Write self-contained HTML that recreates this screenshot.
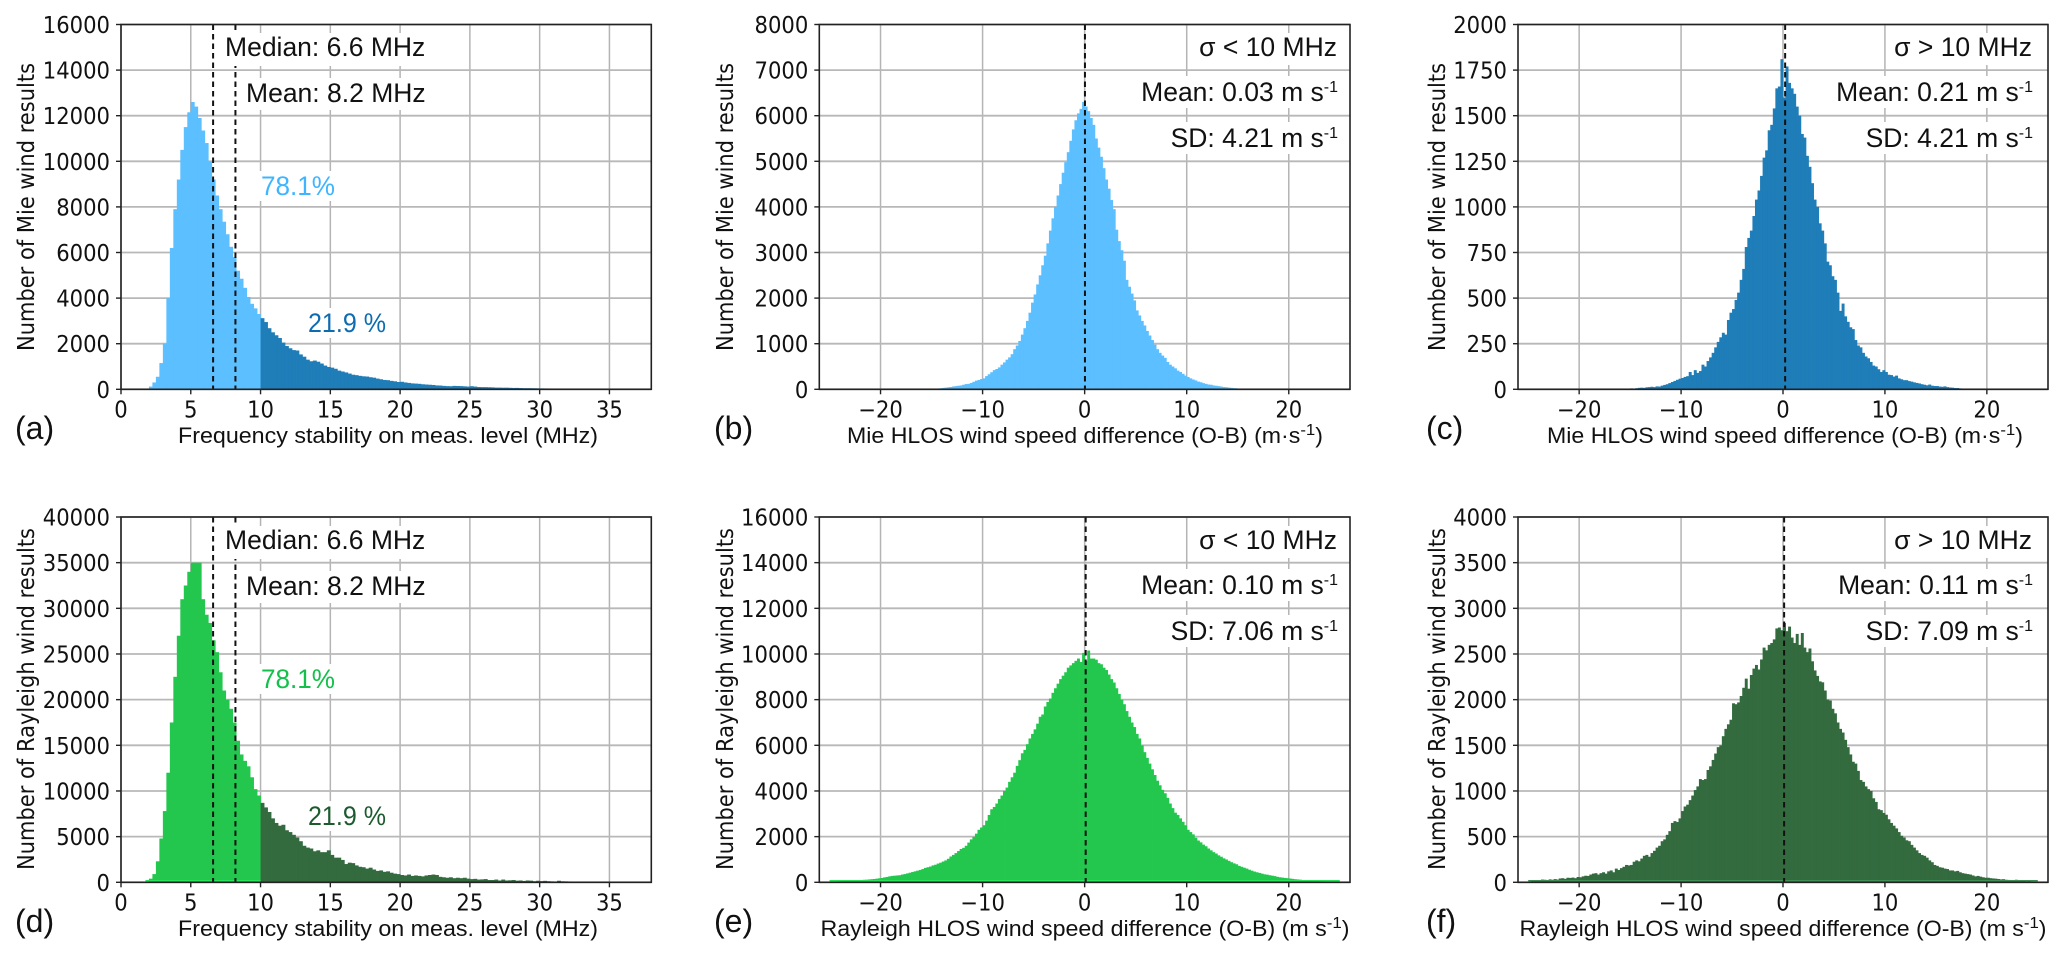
<!DOCTYPE html>
<html lang="en">
<head>
<meta charset="utf-8">
<title>Frequency stability and wind speed histograms</title>
<style>
html,body{margin:0;padding:0;background:#fff;width:2067px;height:958px;overflow:hidden}
svg{display:block}
.ann{font-family:"Liberation Sans",sans-serif;font-size:26.5px;fill:#111}
.xl{font-family:"Liberation Sans",sans-serif;font-size:22px;fill:#111;text-anchor:middle}
.pl{font-family:"Liberation Sans",sans-serif;font-size:32px;fill:#111}
.yl{font-family:"DejaVu Sans",sans-serif;font-size:21px;fill:#111;text-anchor:middle}
.tk{font-family:"DejaVu Sans",sans-serif;font-size:23px;fill:#111}
.sup{font-size:16px}
.end{text-anchor:end}
</style>
</head>
<body>
<svg id="figure" width="2067" height="958" viewBox="0 0 2067 958" xmlns="http://www.w3.org/2000/svg">
<rect width="2067" height="958" fill="#fff"/>

<g id="panel-a">
  <g class="marks"></g>
  <g fill="#fff">
    <rect x="222" y="33" width="208" height="33"/>
    <rect x="243" y="78" width="187" height="32"/>
    <rect x="258" y="171" width="80" height="30"/>
    <rect x="305" y="308" width="85" height="30"/>
  </g>
  <text class="ann" x="225" y="56">Median: 6.6 MHz</text>
  <text class="ann" x="246" y="102">Mean: 8.2 MHz</text>
  <text class="ann" x="261" y="195" style="fill:#3fb5ff" textLength="74" lengthAdjust="spacingAndGlyphs">78.1%</text>
  <text class="ann" x="308" y="332" style="fill:#0d6cb0" textLength="78" lengthAdjust="spacingAndGlyphs">21.9 %</text>
  <text class="xl" x="388" y="443" textLength="420" lengthAdjust="spacingAndGlyphs">Frequency stability on meas. level (MHz)</text>
  <text class="yl" transform="translate(34,207) rotate(-90) scale(1,1.08)" textLength="288" lengthAdjust="spacingAndGlyphs">Number of Mie wind results</text>
  <text class="pl" x="15" y="439">(a)</text>
</g>

<g id="panel-b">
  <g class="marks"></g>
  <g fill="#fff">
    <rect x="1195" y="33" width="146" height="32"/>
    <rect x="1136" y="76" width="205" height="32"/>
    <rect x="1163" y="122" width="178" height="32"/>
  </g>
  <text class="ann end" x="1337" y="56">σ &lt; 10 MHz</text>
  <text class="ann end" x="1338" y="101">Mean: 0.03 m s<tspan class="sup" dy="-9">-1</tspan></text>
  <text class="ann end" x="1338" y="147">SD: 4.21 m s<tspan class="sup" dy="-9">-1</tspan></text>
  <text class="xl" x="1085" y="443" textLength="476" lengthAdjust="spacingAndGlyphs">Mie HLOS wind speed difference (O-B) (m·s<tspan class="sup" dy="-8">-1</tspan><tspan dy="8">)</tspan></text>
  <text class="yl" transform="translate(733,207) rotate(-90) scale(1,1.08)" textLength="288" lengthAdjust="spacingAndGlyphs">Number of Mie wind results</text>
  <text class="pl" x="714" y="439">(b)</text>
</g>

<g id="panel-c">
  <g class="marks"></g>
  <g fill="#fff">
    <rect x="1890" y="33" width="146" height="32"/>
    <rect x="1831" y="76" width="205" height="32"/>
    <rect x="1859" y="122" width="177" height="32"/>
  </g>
  <text class="ann end" x="2032" y="56">σ &gt; 10 MHz</text>
  <text class="ann end" x="2033" y="101">Mean: 0.21 m s<tspan class="sup" dy="-9">-1</tspan></text>
  <text class="ann end" x="2033" y="147">SD: 4.21 m s<tspan class="sup" dy="-9">-1</tspan></text>
  <text class="xl" x="1785" y="443" textLength="476" lengthAdjust="spacingAndGlyphs">Mie HLOS wind speed difference (O-B) (m·s<tspan class="sup" dy="-8">-1</tspan><tspan dy="8">)</tspan></text>
  <text class="yl" transform="translate(1445,207) rotate(-90) scale(1,1.08)" textLength="288" lengthAdjust="spacingAndGlyphs">Number of Mie wind results</text>
  <text class="pl" x="1426" y="439">(c)</text>
</g>

<g id="panel-d">
  <g class="marks"></g>
  <g fill="#fff">
    <rect x="222" y="526" width="208" height="33"/>
    <rect x="243" y="571" width="187" height="32"/>
    <rect x="258" y="664" width="80" height="30"/>
    <rect x="305" y="801" width="85" height="30"/>
  </g>
  <text class="ann" x="225" y="549">Median: 6.6 MHz</text>
  <text class="ann" x="246" y="595">Mean: 8.2 MHz</text>
  <text class="ann" x="261" y="688" style="fill:#12c04a" textLength="74" lengthAdjust="spacingAndGlyphs">78.1%</text>
  <text class="ann" x="308" y="825" style="fill:#1c5b2e" textLength="78" lengthAdjust="spacingAndGlyphs">21.9 %</text>
  <text class="xl" x="388" y="936" textLength="420" lengthAdjust="spacingAndGlyphs">Frequency stability on meas. level (MHz)</text>
  <text class="yl" transform="translate(34,699) rotate(-90) scale(1,1.08)" textLength="342" lengthAdjust="spacingAndGlyphs">Number of Rayleigh wind results</text>
  <text class="pl" x="15" y="932">(d)</text>
</g>

<g id="panel-e">
  <g class="marks"></g>
  <g fill="#fff">
    <rect x="1195" y="526" width="146" height="32"/>
    <rect x="1136" y="569" width="205" height="32"/>
    <rect x="1163" y="615" width="178" height="32"/>
  </g>
  <text class="ann end" x="1337" y="549">σ &lt; 10 MHz</text>
  <text class="ann end" x="1338" y="594">Mean: 0.10 m s<tspan class="sup" dy="-9">-1</tspan></text>
  <text class="ann end" x="1338" y="640">SD: 7.06 m s<tspan class="sup" dy="-9">-1</tspan></text>
  <text class="xl" x="1085" y="936" textLength="529" lengthAdjust="spacingAndGlyphs">Rayleigh HLOS wind speed difference (O-B) (m s<tspan class="sup" dy="-8">-1</tspan><tspan dy="8">)</tspan></text>
  <text class="yl" transform="translate(733,699) rotate(-90) scale(1,1.08)" textLength="342" lengthAdjust="spacingAndGlyphs">Number of Rayleigh wind results</text>
  <text class="pl" x="714" y="932">(e)</text>
</g>

<g id="panel-f">
  <g class="marks"></g>
  <g fill="#fff">
    <rect x="1890" y="526" width="146" height="32"/>
    <rect x="1831" y="569" width="205" height="32"/>
    <rect x="1859" y="615" width="177" height="32"/>
  </g>
  <text class="ann end" x="2032" y="549">σ &gt; 10 MHz</text>
  <text class="ann end" x="2033" y="594">Mean: 0.11 m s<tspan class="sup" dy="-9">-1</tspan></text>
  <text class="ann end" x="2033" y="640">SD: 7.09 m s<tspan class="sup" dy="-9">-1</tspan></text>
  <text class="xl" x="1783" y="936" textLength="527" lengthAdjust="spacingAndGlyphs">Rayleigh HLOS wind speed difference (O-B) (m s<tspan class="sup" dy="-8">-1</tspan><tspan dy="8">)</tspan></text>
  <text class="yl" transform="translate(1445,699) rotate(-90) scale(1,1.08)" textLength="342" lengthAdjust="spacingAndGlyphs">Number of Rayleigh wind results</text>
  <text class="pl" x="1426" y="932">(f)</text>
</g>
</svg>

<script>
const binWidth = 0.25;

const stabilityTicks = [0,5,10,15,20,25,30,35];
const differenceTicks = [-20,-10,0,10,20];
const yTicksA = [0,2000,4000,6000,8000,10000,12000,14000,16000];
const yTicksB = [0,1000,2000,3000,4000,5000,6000,7000,8000];
const yTicksC = [0,250,500,750,1000,1250,1500,1750,2000];
const yTicksD = [0,5000,10000,15000,20000,25000,30000,35000,40000];
const yTicksE = [0,2000,4000,6000,8000,10000,12000,14000,16000];
const yTicksF = [0,500,1000,1500,2000,2500,3000,3500,4000];

const statLinesAD = [6.6,8.2];
const statLineB = [0.03];
const statLineC = [0.21];
const statLineE = [0.10];
const statLineF = [0.11];

const countsA = [20,
120,300,550,1150,
2000,4000,6200,7900,
9200,10500,11500,12150,
12600,12400,11900,11350,
10800,10000,9200,8500,
7900,7350,6800,6250,
5800,5200,4850,4450,
4050,3750,3550,3300,
3120,2950,2680,2500,
2370,2250,2050,1900,
1800,1720,1700,1530,
1430,1300,1230,1260,
1210,1130,1040,980,
950,900,820,780,
740,690,640,620,
590,570,560,530,
510,470,440,410,
400,370,350,320,
330,300,280,260,
250,240,220,210,
200,190,170,165,
150,140,135,150,
145,140,130,120,
135,120,100,95,
95,90,85,75,
75,70,72,65,
60,62,55,50,
50,48,46,42,
40,38,36,34,
32,30,28,26,
25,24,22,20,
20,18,16,14,
12,12,10,8,
6,5,4,3];

const countsD = [40,
400,900,2300,4800,
7800,12000,17500,22500,
27000,31000,32500,34000,
35000,35000,35000,31000,
29300,28400,26500,25200,
23000,21000,20000,19000,
17500,15500,14000,13300,
12700,11500,10200,9500,
8700,8200,7700,7000,
6500,6200,6300,5700,
5500,5200,4900,4500,
4000,3800,3700,3400,
3500,3300,3300,3500,
3000,2700,2700,2450,
2000,2150,2100,1850,
1700,1650,1500,1600,
1400,1250,1300,1150,
1200,1050,950,900,
800,750,850,700,
750,700,650,750,
800,850,800,600,
550,500,550,450,
500,450,500,400,
350,380,300,320,
350,250,250,300,
200,300,200,220,
250,180,200,150,
200,180,120,170,
130,160,120,100,
90,170,110,100,
90,70,60,60,
50,40,40,30,
40,50,30,20,
10,10,5,5];

const countsB = [
3,4,5,6,
10,14,18,22,
30,36,44,50,
62,70,78,85,
100,115,120,140,
165,190,205,225,
240,290,330,375,
420,445,480,540,
590,650,700,770,
880,960,1060,1200,
1340,1500,1680,1900,
2080,2300,2500,2720,
2930,3200,3480,3750,
4000,4250,4500,4750,
4980,5200,5450,5700,
5900,6050,6150,6300,
6200,6100,5950,5800,
5500,5300,5100,4850,
4600,4400,4150,3950,
3500,3250,3050,2820,
2400,2250,2100,1950,
1730,1620,1500,1400,
1280,1180,1080,980,
880,800,740,690,
600,540,500,460,
410,380,340,300,
270,240,215,195,
170,155,135,120,
105,100,85,78,
70,60,50,45,
38,32,26,22,
16,12,10,8,
6,5,4,3,
2,2,1,1];

const countsC = [
1,2,2,3,
3,3,4,4,
5,4,6,8,
9,8,11,12,
14,12,16,15,
20,24,28,34,
40,46,52,58,
62,68,72,95,
78,105,90,100,
135,125,155,175,
200,230,260,285,
310,300,380,420,
440,490,530,600,
660,780,830,870,
950,1040,1090,1170,
1270,1310,1420,1450,
1540,1650,1660,1810,
1600,1770,1680,1650,
1620,1550,1500,1400,
1380,1280,1220,1130,
1040,1000,910,870,
800,700,680,620,
600,530,430,470,
400,370,340,330,
270,240,230,200,
180,170,150,130,
125,110,95,105,
95,80,78,70,
75,60,55,50,
50,45,42,38,
35,32,28,25,
22,26,20,18,
18,15,14,16,
12,10,9,7,
7,5,4,3,
3,2,2,2,
2,1,1,1];

const countsE = [
25,30,35,45,
55,60,65,70,
75,80,85,90,
100,110,115,125,
135,145,160,175,
190,215,235,260,
280,290,300,310,
340,360,390,420,
450,480,510,540,
580,630,660,690,
740,770,820,860,
910,960,1030,1130,
1200,1280,1370,1460,
1510,1600,1740,1880,
1990,2130,2300,2400,
2500,2700,2950,3200,
3300,3450,3650,3800,
4000,4150,4400,4600,
4800,5100,5350,5650,
5800,6050,6300,6500,
6700,6950,7250,7350,
7700,7900,8050,8300,
8500,8700,8900,9050,
9200,9400,9500,9600,
9700,9800,9650,10050,
9700,10150,9800,9800,
9750,9600,9550,9400,
9300,9100,8900,8750,
8500,8250,8000,7800,
7500,7250,7000,6800,
6500,6300,6000,5700,
5450,5200,4950,4700,
4450,4250,4050,3900,
3700,3450,3250,3050,
2950,2800,2650,2500,
2300,2200,2100,1950,
1830,1750,1650,1580,
1480,1400,1320,1260,
1180,1120,1050,1000,
940,880,830,790,
720,680,640,600,
550,510,470,440,
410,380,350,335,
310,290,270,240,
220,205,190,180,
165,150,135,125,
115,100,90,85,
75,65,60,52,
48,42,36,32,
28,22,18,12];

const countsF = [
5,15,20,25,
22,30,28,25,
32,28,35,30,
42,45,38,50,
48,52,45,58,
55,65,72,70,
85,95,100,85,
100,110,95,120,
130,110,150,135,
155,170,190,185,
190,225,240,230,
260,290,300,280,
320,345,380,400,
450,470,520,560,
650,670,660,700,
780,830,850,900,
950,1010,1050,1130,
1120,1130,1230,1270,
1340,1410,1480,1500,
1600,1680,1730,1780,
1960,1950,1970,2040,
2130,2230,2120,2270,
2340,2380,2330,2440,
2570,2540,2600,2620,
2660,2780,2790,2760,
2840,2750,2800,2680,
2620,2720,2600,2730,
2570,2520,2560,2420,
2320,2260,2200,2190,
2100,2000,1990,1900,
1850,1750,1680,1640,
1560,1480,1400,1320,
1300,1220,1120,1100,
1050,1020,1000,920,
880,800,790,760,
740,690,650,620,
590,550,510,490,
460,450,410,380,
350,320,300,290,
270,240,220,190,
180,165,160,150,
145,130,130,120,
125,110,100,95,
90,85,75,65,
70,62,55,50,
50,45,42,40,
36,32,34,28,
26,24,22,28,
18,20,15,12,
14,10,8,6];

const SVG_NS = 'http://www.w3.org/2000/svg';

function line(parent, x1, y1, x2, y2, stroke, width, dash) {
  const el = document.createElementNS(SVG_NS, 'line');
  el.setAttribute('x1', x1);
  el.setAttribute('y1', y1);
  el.setAttribute('x2', x2);
  el.setAttribute('y2', y2);
  el.setAttribute('stroke', stroke);
  el.setAttribute('stroke-width', width);
  if (dash) el.setAttribute('stroke-dasharray', dash);
  parent.appendChild(el);
  return el;
}

function tickText(parent, x, y, anchor, str) {
  const el = document.createElementNS(SVG_NS, 'text');
  el.setAttribute('class', 'tk');
  el.setAttribute('text-anchor', anchor);
  el.setAttribute('transform', 'translate(' + x + ',' + y + ') scale(0.92,1)');
  el.textContent = str;
  parent.appendChild(el);
  return el;
}

function drawPanel(p) {
  const g = document.querySelector('#' + p.id + ' .marks');
  const xScale = v => p.left + (v - p.xMin) / (p.xMax - p.xMin) * (p.right - p.left);
  const yScale = v => p.bottom - v / p.yMax * (p.bottom - p.top);

  p.xTicks.forEach(t => {
    const grid = line(g, xScale(t), p.top, xScale(t), p.bottom, '#b4b4b4', 1.5);
    
    
  });
  p.yTicks.forEach(t => {
    const grid = line(g, p.left, yScale(t), p.right, yScale(t), '#b8b8b8', 1.8);
    
    
  });

  p.counts.forEach((c, i) => {
    const x0 = p.binStart + i * binWidth;
    const bar = document.createElementNS(SVG_NS, 'rect');
    
    
    bar.setAttribute('x', xScale(x0));
    bar.setAttribute('y', yScale(c));
    bar.setAttribute('width', xScale(x0 + binWidth) - xScale(x0) + 0.4);
    bar.setAttribute('height', yScale(0) - yScale(c));
    bar.setAttribute('fill', x0 < p.split ? p.colorLow : p.colorHigh);
    g.appendChild(bar);
  });

  if (p.baseColor) {
    const baseEnd = Math.min(p.split, p.binStart + p.counts.length * binWidth);
    const base = line(g, xScale(p.binStart), p.bottom - 1.6, xScale(baseEnd), p.bottom - 1.6, p.baseColor, 1.4);
    
    
  }

  p.statLines.forEach(v => {
    const stat = line(g, xScale(v), p.top, xScale(v), p.bottom, '#111', 2, '5.5 4');
    
    
  });

  const frame = document.createElementNS(SVG_NS, 'rect');
  
  
  frame.setAttribute('x', p.left);
  frame.setAttribute('y', p.top);
  frame.setAttribute('width', p.right - p.left);
  frame.setAttribute('height', p.bottom - p.top);
  frame.setAttribute('fill', 'none');
  frame.setAttribute('stroke', '#222');
  frame.setAttribute('stroke-width', 1.6);
  g.appendChild(frame);

  p.xTicks.forEach(t => {
    const tick = line(g, xScale(t), p.bottom, xScale(t), p.bottom + 5, '#222', 1.4);
    
    
    const label = tickText(g, xScale(t), p.bottom + 28, 'middle', String(t).replace('-', '\u2212'));
    
    
  });
  p.yTicks.forEach(t => {
    const tick = line(g, p.left - 5, yScale(t), p.left, yScale(t), '#222', 1.4);
    
    
    const label = tickText(g, p.left - 11, yScale(t) + 8.5, 'end', String(t));
    
    
  });
}

const topRow = {top: 24.5, bottom: 389.3};
const bottomRow = {top: 517, bottom: 882.3};
const col1 = {left: 121, right: 651.3, xMin: 0, xMax: 38, xTicks: stabilityTicks, binStart: 1.75, split: 10};
const col2 = {left: 819.3, right: 1350, xMin: -26, xMax: 26, xTicks: differenceTicks};
const col3 = {left: 1518, right: 2048, xMin: -26, xMax: 26, xTicks: differenceTicks};

drawPanel({id: 'panel-a', ...topRow, ...col1, yMax: 16000, yTicks: yTicksA, counts: countsA, statLines: statLinesAD, colorLow: '#5cbfff', colorHigh: '#1f7db8'});
drawPanel({id: 'panel-b', ...topRow, ...col2, yMax: 8000, yTicks: yTicksB, counts: countsB, statLines: statLineB, binStart: -16, split: 99, colorLow: '#5cbfff', colorHigh: '#5cbfff'});
drawPanel({id: 'panel-c', ...topRow, ...col3, yMax: 2000, yTicks: yTicksC, counts: countsC, statLines: statLineC, binStart: -17, split: 99, colorLow: '#1f7db8', colorHigh: '#1f7db8'});
drawPanel({id: 'panel-d', ...bottomRow, ...col1, yMax: 40000, yTicks: yTicksD, counts: countsD, statLines: statLinesAD, colorLow: '#24c74e', colorHigh: '#336b3f', baseColor: '#2be35a'});
drawPanel({id: 'panel-e', ...bottomRow, ...col2, yMax: 16000, yTicks: yTicksE, counts: countsE, statLines: statLineE, binStart: -25, split: 99, colorLow: '#24c74e', colorHigh: '#24c74e', baseColor: '#2be35a'});
drawPanel({id: 'panel-f', ...bottomRow, ...col3, yMax: 4000, yTicks: yTicksF, counts: countsF, statLines: statLineF, binStart: -25, split: 99, colorLow: '#336b3f', colorHigh: '#336b3f', baseColor: '#3f8f56'});
</script>
</body>
</html>
